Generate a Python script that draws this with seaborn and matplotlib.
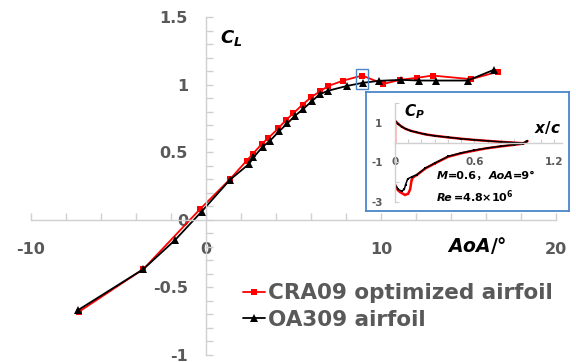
import numpy as np
import pandas as pd
import matplotlib
matplotlib.use("Agg")
import matplotlib.pyplot as plt
import seaborn as sns
from matplotlib.patches import Rectangle
from matplotlib.offsetbox import TextArea, HPacker, VPacker, AnchoredOffsetbox

# ---------------- data ----------------
series_names = ["CRA09 optimized airfoil", "OA309 airfoil"]

aoa_cra09 = [-7.26, -3.58, -0.34, 1.37, 2.32, 2.67, 3.18, 3.56, 4.13, 4.57, 4.99,
             5.52, 6.00, 6.51, 6.99, 7.85, 8.93, 10.13, 11.09, 12.04, 12.95, 15.14, 16.70]
cl_cra09 = [-0.68, -0.365, 0.079, 0.30, 0.437, 0.487, 0.56, 0.605, 0.676, 0.738, 0.788,
            0.852, 0.906, 0.95, 0.99, 1.03, 1.067, 1.005, 1.035, 1.05, 1.067, 1.04, 1.096]

aoa_oa309 = [-7.30, -3.58, -1.77, -0.25, 1.37, 2.46, 2.71, 3.24, 3.66, 4.17, 4.65, 5.09,
             5.56, 6.07, 6.51, 6.99, 8.05, 8.95, 9.90, 11.14, 12.17, 13.14, 14.95, 16.46]
cl_oa309 = [-0.667, -0.365, -0.15, 0.061, 0.296, 0.413, 0.461, 0.54, 0.585, 0.654, 0.713, 0.77,
            0.82, 0.88, 0.93, 0.955, 0.99, 1.013, 1.028, 1.035, 1.03, 1.03, 1.03, 1.11]

# inset: pressure distribution at AoA = 9 deg
xc_upper = [0, 0, 0.01, 0.025, 0.05, 0.08, 0.12, 0.16, 0.23, 0.3, 0.4, 0.5, 0.6,
            0.7, 0.8, 0.9, 0.97, 1.0]
cp_upper_cra09 = [0.0, 1.12, 1.05, 0.95, 0.82, 0.70, 0.60, 0.53, 0.42, 0.35, 0.27, 0.20,
                  0.14, 0.09, 0.04, 0.0, -0.03, 0.08]
cp_upper_oa309 = [0.0, 1.10, 1.04, 0.94, 0.81, 0.70, 0.60, 0.53, 0.42, 0.35, 0.27, 0.20,
                  0.14, 0.09, 0.04, 0.0, -0.03, 0.08]

xc_lower_cra09 = [0, 0.02, 0.038, 0.076, 0.1, 0.114, 0.126, 0.14, 0.164, 0.23, 0.3, 0.4,
                  0.5, 0.6, 0.7, 0.8, 0.9, 0.97, 1.0]
cp_lower_cra09 = [-2.13, -2.40, -2.51, -2.66, -2.59, -2.38, -1.88, -1.74, -1.65, -1.31,
                  -1.06, -0.72, -0.54, -0.40, -0.28, -0.19, -0.11, -0.05, 0.08]
xc_lower_oa309 = [0, 0.025, 0.05, 0.07, 0.08, 0.096, 0.126, 0.164, 0.23, 0.3, 0.4, 0.5,
                  0.6, 0.7, 0.8, 0.9, 0.97, 1.0]
cp_lower_oa309 = [-2.13, -2.38, -2.46, -2.38, -2.13, -1.84, -1.74, -1.63, -1.29, -1.04,
                  -0.70, -0.52, -0.38, -0.27, -0.18, -0.10, -0.05, 0.08]

x_ticks = [-10, 0, 10, 20]
y_ticks = [-1, -0.5, 0, 0.5, 1, 1.5]
y_tick_labels = ["-1", "-0.5", "0", "0.5", "1", "1.5"]
inset_x_ticks = [0, 0.6, 1.2]
inset_x_labels = ["0", "0.6", "1.2"]
inset_y_ticks = [-3, -1, 1]
inset_y_labels = ["-3", "-1", "1"]

# ---------------- style ----------------
sns.set_theme(style="white")
plt.rcParams["font.family"] = ["DejaVu Sans", "Noto Sans CJK SC"]
plt.rcParams["mathtext.fontset"] = "custom"
plt.rcParams["mathtext.it"] = "DejaVu Sans:italic:bold"
plt.rcParams["mathtext.rm"] = "DejaVu Sans:bold"
plt.rcParams["mathtext.bf"] = "DejaVu Sans:bold"

W, H = 576, 362
grey = "#d0d0d0"
label_grey = "#595959"
blue = "#4a86c8"

fig = plt.figure(figsize=(W / 100, H / 100), dpi=100)
fig.patch.set_facecolor("white")

def fx(px):
    return px / W

def fy(py):
    return 1 - py / H

ax = fig.add_axes([fx(31), fy(355), fx(556) - fx(31), fy(17) - fy(355)])
ax.set_facecolor("white")

sns.lineplot(x=aoa_cra09, y=cl_cra09, ax=ax, color="#ff0000", marker="s", markersize=5,
             markeredgewidth=0, linewidth=1.3, sort=False, estimator=None,
             label=series_names[0])
sns.lineplot(x=aoa_oa309, y=cl_oa309, ax=ax, color="black", marker="^", markersize=5.5,
             markeredgewidth=0, linewidth=1.3, sort=False, estimator=None,
             label=series_names[1])

ax.set_xlim(-10, 20)
ax.set_ylim(-1, 1.5)
for s in ["top", "right"]:
    ax.spines[s].set_visible(False)
ax.spines["left"].set_position(("data", 0))
ax.spines["bottom"].set_position(("data", 0))
for s in ["left", "bottom"]:
    ax.spines[s].set_color(grey)
    ax.spines[s].set_linewidth(1.0)
ax.set_xticks(x_ticks)
ax.set_xticklabels([str(v) for v in x_ticks])
ax.set_xticks(np.arange(-10, 21, 2), minor=True)
ax.set_yticks(y_ticks)
ax.set_yticklabels(y_tick_labels)
ax.set_yticks(np.arange(-1, 1.51, 0.1), minor=True)
ax.tick_params(which="both", bottom=True, left=True, top=False, right=False,
               direction="in", color=grey, length=5, width=1)
ax.tick_params(axis="x", which="major", pad=16, labelsize=11.5, labelcolor=label_grey)
ax.tick_params(axis="y", which="major", pad=13, labelsize=11.5, labelcolor=label_grey)
for lbl in ax.get_xticklabels() + ax.get_yticklabels():
    lbl.set_fontweight("bold")
ax.set_xlabel("")
ax.set_ylabel("")

# highlight box around AoA = 9 deg point
ax.add_patch(Rectangle((8.57, 0.968), 0.67, 0.148, fill=False, edgecolor=blue, lw=1.0, zorder=5))

fig.text(fx(220), fy(38), r"$C_L$", fontsize=13, color="black", ha="left", va="center")
fig.text(fx(447), fy(245), r"$AoA/°$", fontsize=13.5, color="black", ha="left", va="center")

leg = ax.legend(loc="center left", bbox_to_anchor=(fx(243), fy(306.5)),
                bbox_transform=fig.transFigure, frameon=False,
                prop=dict(weight="bold", size=15.5), handlelength=1.0,
                handletextpad=0.15, borderpad=0, borderaxespad=0, labelspacing=0.3)
for t in leg.get_texts():
    t.set_color(label_grey)

# ---------------- inset ----------------
frame = fig.add_axes([fx(366), fy(210.7), fx(569) - fx(366), fy(91.7) - fy(210.7)])
frame.set_facecolor("white")
frame.set_xticks([])
frame.set_yticks([])
for s in frame.spines.values():
    s.set_color(blue)
    s.set_linewidth(1.3)

inset = fig.add_axes([fx(395), fy(201.7), fx(561.7) - fx(395), fy(103.3) - fy(201.7)])
inset.patch.set_alpha(0)

sns.lineplot(x=xc_upper, y=cp_upper_cra09, ax=inset, color="#ff0000", marker="s",
             markersize=2, markeredgewidth=0, linewidth=1.8, sort=False, estimator=None, legend=False)
sns.lineplot(x=xc_lower_cra09, y=cp_lower_cra09, ax=inset, color="#ff0000", marker="s",
             markersize=2, markeredgewidth=0, linewidth=1.8, sort=False, estimator=None, legend=False)
sns.lineplot(x=xc_upper, y=cp_upper_oa309, ax=inset, color="black", marker="s",
             markersize=1.5, markeredgewidth=0, linewidth=1.1, sort=False, estimator=None, legend=False)
sns.lineplot(x=xc_lower_oa309, y=cp_lower_oa309, ax=inset, color="black", marker="s",
             markersize=1.5, markeredgewidth=0, linewidth=1.1, sort=False, estimator=None, legend=False)

inset.set_xlim(0, 1.26)
inset.set_ylim(-3, 2)
for s in ["top", "right"]:
    inset.spines[s].set_visible(False)
inset.spines["left"].set_position(("data", 0))
inset.spines["bottom"].set_position(("data", 0))
for s in ["left", "bottom"]:
    inset.spines[s].set_color(grey)
    inset.spines[s].set_linewidth(1.0)
inset.set_xticks(inset_x_ticks)
inset.set_xticklabels(inset_x_labels)
inset.set_xticks(np.arange(0, 1.26, 0.1), minor=True)
inset.set_yticks(inset_y_ticks)
inset.set_yticklabels(inset_y_labels)
inset.set_yticks(np.arange(-3, 2.01, 1), minor=True)
inset.tick_params(which="both", bottom=True, left=True, top=False, right=False,
                  direction="in", color=grey, length=3, width=0.8)
inset.tick_params(axis="x", which="major", pad=10, labelsize=7.5, labelcolor=label_grey)
inset.tick_params(axis="y", which="major", pad=9, labelsize=7.5, labelcolor=label_grey)
for lbl in inset.get_xticklabels() + inset.get_yticklabels():
    lbl.set_fontweight("bold")
inset.set_xlabel("")
inset.set_ylabel("")

fig.text(fx(404), fy(112), r"$C_P$", fontsize=11, color="black", ha="left", va="center")
fig.text(fx(547), fy(127), r"$x/c$", fontsize=11, color="black", ha="center", va="center")

def piece(s, italic=False):
    return TextArea(s, textprops=dict(fontsize=8, fontweight="bold",
                                      fontstyle="italic" if italic else "normal",
                                      color="black",
                                      family=["DejaVu Sans", "Noto Sans CJK SC"]))

line1 = HPacker(children=[piece("M", True), piece("=0.6，"), piece("AoA", True), piece("=9°")],
                align="baseline", pad=0, sep=0)
line2 = HPacker(children=[piece("Re", True), piece(r"=4.8×10$^{\mathrm{6}}$")],
                align="baseline", pad=0, sep=0)
box = VPacker(children=[line1, line2], align="left", pad=0, sep=5)
anch = AnchoredOffsetbox(loc="upper left", child=box, pad=0, borderpad=0, frameon=False,
                         bbox_to_anchor=(fx(437), fy(171)), bbox_transform=fig.transFigure)
fig.add_artist(anch)

fig.savefig("out.png", dpi=100)
